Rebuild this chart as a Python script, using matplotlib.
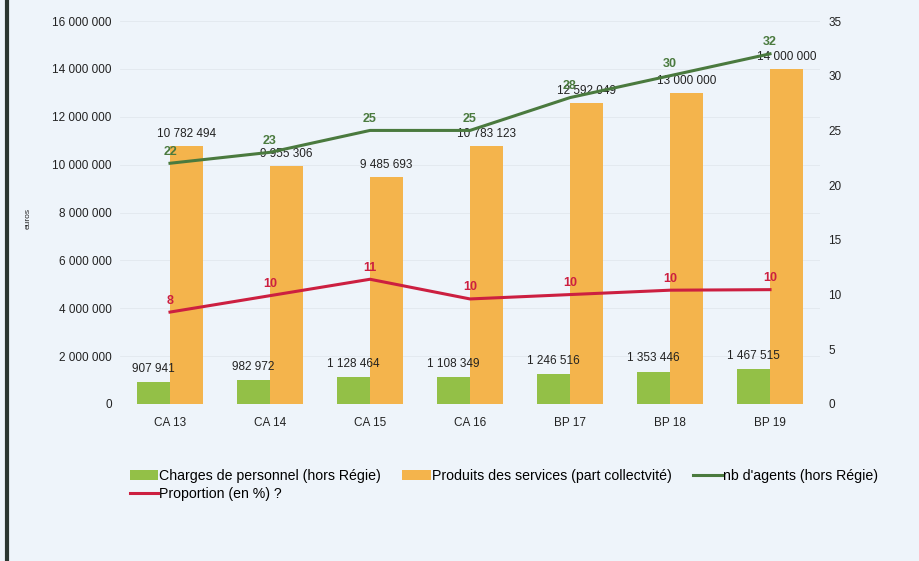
import matplotlib
matplotlib.use("Agg")
import matplotlib.pyplot as plt
import numpy as np
from matplotlib.ticker import FuncFormatter
from matplotlib.lines import Line2D

plt.rcParams['font.family'] = ['Liberation Sans', 'DejaVu Sans']

categories = ["CA 13", "CA 14", "CA 15", "CA 16", "BP 17", "BP 18", "BP 19"]
charges = [907941, 982972, 1128464, 1108349, 1246516, 1353446, 1467515]
produits = [10782494, 9955306, 9485693, 10783123, 12592049, 13000000, 14000000]
agents = [22, 23, 25, 25, 28, 30, 32]
proportion = [8.4, 9.9, 11.4, 9.6, 10.0, 10.4, 10.45]

c_green = "#93c047"
c_orange = "#f4b44c"
c_line_green = "#4a7a3e"
c_red = "#cc1f40"
bg = "#eef4fa"

def fmt_sp(v, pos=None):
    return f"{int(round(v)):,}".replace(",", " ")

fig = plt.figure(figsize=(9.19, 5.61), dpi=100, facecolor=bg)
ax = fig.add_axes([120/919, 1-404/561, 700/919, 383/561], facecolor=bg)
ax2 = ax.twinx()

x = np.arange(len(categories))
w = 0.33
b1 = ax.bar(x - w/2, charges, width=w, color=c_green, zorder=2, label="Charges de personnel (hors Régie)")
b2 = ax.bar(x + w/2, produits, width=w, color=c_orange, zorder=2, label="Produits des services (part collectvité)")

ax.set_xlim(-0.5, len(categories) - 0.5)
ax.set_ylim(0, 16000000)
ax.set_yticks(np.arange(0, 16000001, 2000000))
ax.yaxis.set_major_formatter(FuncFormatter(fmt_sp))
ax.set_xticks(x)
ax.set_xticklabels(categories, fontsize=9.5)
ax.tick_params(axis='both', length=0, labelsize=8.5, colors="#222222")
ax.tick_params(axis='y', pad=6)
ax.tick_params(axis='x', pad=9)
ax.grid(axis='y', color="#e2e8ee", linewidth=0.6, zorder=0)
for s in ax.spines.values():
    s.set_visible(False)
fig.text(28/919, 1-218/561, "euros", rotation=90, fontsize=6, ha='center', va='center', color="#222222")

for xi, v in zip(x, charges):
    ax.text(xi - w/2, v + 300000, fmt_sp(v), ha='center', va='bottom', fontsize=8.5, color="#222222", zorder=5)
for xi, v in zip(x, produits):
    ax.text(xi + w/2, v + 250000, fmt_sp(v), ha='center', va='bottom', fontsize=8.5, color="#222222", zorder=5)

ax2.set_ylim(0, 35)
ax2.set_yticks(np.arange(0, 36, 5))
ax2.tick_params(axis='y', length=0, labelsize=8.5, colors="#222222", pad=6)
for s in ax2.spines.values():
    s.set_visible(False)
l1, = ax2.plot(x, agents, color=c_line_green, linewidth=2.2, zorder=4, label="nb d'agents (hors Régie)")
l2, = ax2.plot(x, proportion, color=c_red, linewidth=2.2, zorder=4, label="Proportion (en %) ?")
for xi, v in zip(x, agents):
    ax2.text(xi, v + 0.5, f"{v:.0f}", ha='center', va='bottom', fontsize=9, color=c_line_green, fontweight='bold', zorder=6)
for xi, v in zip(x, proportion):
    ax2.text(xi, v + 0.5, f"{v:.0f}", ha='center', va='bottom', fontsize=9, color=c_red, fontweight='bold', zorder=6)

handles = [b1, l2, b2, l1]
labels = [h.get_label() for h in handles]
leg = fig.legend(handles, labels, ncol=3, loc='upper left', bbox_to_anchor=(124/919, 1-463/561),
                 frameon=False, fontsize=10.2, handlelength=2.0, handletextpad=0.1, columnspacing=1.5,
                 labelspacing=0.3, borderaxespad=0)

# left border line
fig.add_artist(Line2D([7/919, 7/919], [0, 1], color="#2a3530", linewidth=3, transform=fig.transFigure))

fig.savefig("out.png", dpi=100, facecolor=bg)
